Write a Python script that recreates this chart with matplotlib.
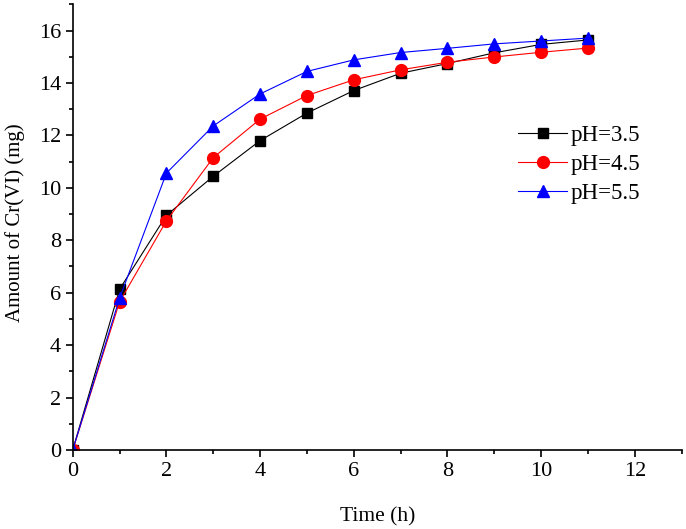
import matplotlib
matplotlib.use("Agg")
import matplotlib.pyplot as plt
from matplotlib.ticker import MultipleLocator

plt.rcParams['font.family'] = ['Liberation Serif', 'DejaVu Serif']

# time points (h) and adsorbed Cr(VI) amounts (mg) for each pH
time_h = [0, 1, 2, 3, 4, 5, 6, 7, 8, 9, 10, 11]
ph35 = [0, 6.13, 8.95, 10.44, 11.80, 12.85, 13.71, 14.37, 14.74, 15.15, 15.47, 15.64]
ph45 = [0, 5.65, 8.74, 11.15, 12.62, 13.52, 14.12, 14.50, 14.79, 14.99, 15.17, 15.33]
ph55 = [0, 5.79, 10.56, 12.36, 13.58, 14.44, 14.88, 15.16, 15.32, 15.49, 15.60, 15.71]

fig = plt.figure(figsize=(6.86, 5.29), dpi=100)
ax = fig.add_axes([0.106, 0.1493, 0.8877, 0.8426])

ax.plot(time_h, ph35, color='black', marker='s', ms=7, lw=0.8, label='pH=3.5')
ax.plot(time_h, ph45, color='red', marker='o', ms=8.5, lw=0.8, label='pH=4.5')
ax.plot(time_h, ph55, color='blue', marker='^', ms=9, lw=0.8, label='pH=5.5')

ax.set_xlim(0, 13)
ax.set_ylim(0, 17)
ax.xaxis.set_major_locator(MultipleLocator(2))
ax.xaxis.set_minor_locator(MultipleLocator(1))
ax.yaxis.set_major_locator(MultipleLocator(2))
ax.yaxis.set_minor_locator(MultipleLocator(1))

for side in ['top', 'right']:
    ax.spines[side].set_visible(False)
for side in ['left', 'bottom']:
    ax.spines[side].set_linewidth(1.2)

ax.tick_params(which='major', direction='out', length=5, width=1.2, labelsize=16)
ax.tick_params(which='minor', direction='out', length=3, width=1.2)

ax.set_xlabel('Time (h)', fontsize=15.5)
ax.set_ylabel('Amount of Cr(VI) (mg)', fontsize=15)
ax.xaxis.set_label_coords(0.5, -0.128)
ax.yaxis.set_label_coords(-0.078, 0.51)

ax.legend(loc='upper left', bbox_to_anchor=(518 / 686, 1 - 125 / 529),
          bbox_transform=fig.transFigure, frameon=False,
          fontsize=16.5, handlelength=2.15, handletextpad=0.15,
          labelspacing=0.35, borderpad=0, borderaxespad=0)

fig.savefig('out.png', dpi=100)
